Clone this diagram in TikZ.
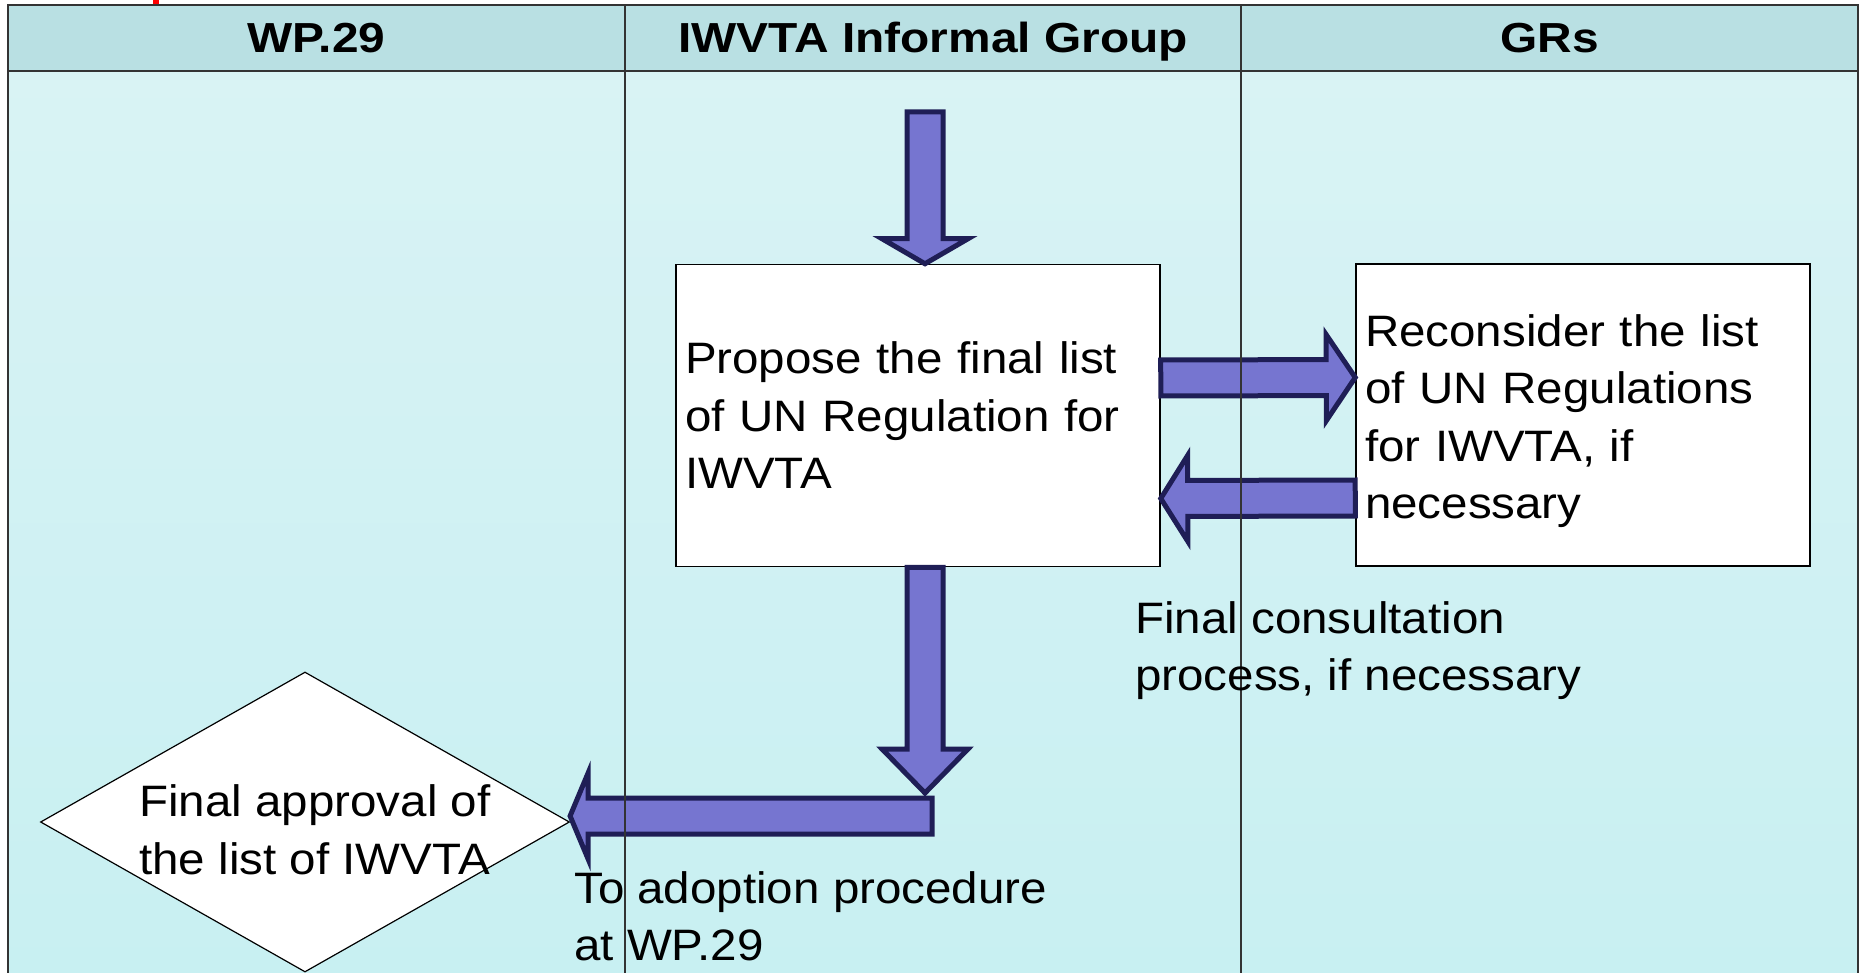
\documentclass[tikz,border=0pt]{standalone}
\usepackage{fontspec}
\setmainfont{Liberation Sans}[FakeStretch=1.08]
\newfontfamily\lanefont{Liberation Sans}[FakeStretch=1.14]
\usetikzlibrary{shapes.geometric,calc,positioning}

\definecolor{headfill}{HTML}{B9E0E3}
\definecolor{lanetop}{HTML}{D9F3F4}
\definecolor{lanebot}{HTML}{C8F0F2}
\definecolor{flowfill}{HTML}{7675D0}
\definecolor{flowline}{HTML}{1F1E56}
\definecolor{laneline}{HTML}{333333}

\tikzset{
  body/.style={font=\fontsize{44}{57.5}\selectfont},
  lanehead/.style={font=\lanefont\fontsize{42}{50}\selectfont\bfseries, anchor=base},
  stepbox/.style={draw=black, line width=1.5pt, fill=white, body, align=left, inner sep=9pt},
  flow/.style={fill=flowfill, draw=flowline, line width=5pt, line join=miter},
  note/.style={body, align=left, inner sep=0pt, anchor=north west}
}

% block arrow: [head length]{from}{to}
\newcommand\blockarrow[3][28pt]{%
  \coordinate (ba-h) at ($(#3)!#1!(#2)$);
  \filldraw[flow] ($(#2)!18pt!90:(#3)$) -- ($(ba-h)!18pt!90:(#3)$)
    -- ($(ba-h)!43pt!90:(#3)$) -- (#3) -- ($(ba-h)!43pt!-90:(#3)$)
    -- ($(ba-h)!18pt!-90:(#3)$) -- ($(#2)!18pt!-90:(#3)$) -- cycle;}

\begin{document}
\begin{tikzpicture}[x=1pt,y=-1pt]
  \useasboundingbox (0,0) rectangle (1860,973);
  \clip (0,0) rectangle (1860,973);

  % lanes
  \shade[top color=lanetop, bottom color=lanebot] (8,71) rectangle (1858,973);
  \fill[headfill] (8,5) rectangle (1858,71);
  \fill[red] (153,0) rectangle (159,4);

  % steps
  \node[stepbox, text width=466pt, minimum height=302pt] (prop) at (918,415.5)
    {Propose the final list\\of UN Regulation for\\IWVTA};
  \node[stepbox, text width=436pt, minimum height=302pt] (gr) at (1583,415)
    {\rule{0pt}{44pt}Reconsider the list\\of UN Regulations\\for IWVTA, if\\necessary};
  \node[diamond, draw=black, line width=1.2pt, fill=white, inner sep=0pt,
    minimum width=529pt, minimum height=300pt,
    label={[body, align=left, xshift=10pt, yshift=-8pt]center:Final approval of\\the list of IWVTA}] (appr) at (305,822) {};

  % arrows
  \coordinate (feed) at (925,112);
  \coordinate (feedtip) at ([xshift=7pt]prop.north);
  \blockarrow[25pt]{feed}{feedtip}

  \coordinate (apprin) at ([yshift=6pt]appr.east);
  \coordinate (out) at ([xshift=7pt]prop.south);
  \coordinate (drop) at ([yshift=23pt]out |- apprin);
  \coordinate (turn) at ([xshift=7pt]out |- apprin);
  \blockarrow[44pt]{out}{drop}
  \blockarrow[18pt]{turn}{apprin}

  \coordinate (ask) at ([yshift=37.5pt]prop.east);
  \coordinate (asktip) at ([yshift=37.5pt]gr.west);
  \blockarrow[29pt]{ask}{asktip}
  \coordinate (back) at ([yshift=-83pt]gr.west);
  \coordinate (backtip) at ([yshift=-83pt]prop.east);
  \blockarrow[27pt]{back}{backtip}

  % lane lines
  \draw[laneline, line width=2pt] (8,5) rectangle (1858,1000);
  \draw[laneline, line width=2.5pt] (8,71) -- (1858,71);
  \draw[laneline, line width=2pt] (625,5) -- (625,973) (1241,5) -- (1241,973);

  % lane titles
  \node[lanehead] (wp) at (316.5,53) {WP.29};
  \node[lanehead] (iwg) at (933,53) {IWVTA Informal Group};
  \node[lanehead] (grs) at (1549.5,53) {GRs};

  % notes
  \node[note] (cons) at (1135,601) {Final consultation\\process, if necessary};
  \node[note] (adopt) at (574,871) {To adoption procedure\\at WP.29};
\end{tikzpicture}
\end{document}
